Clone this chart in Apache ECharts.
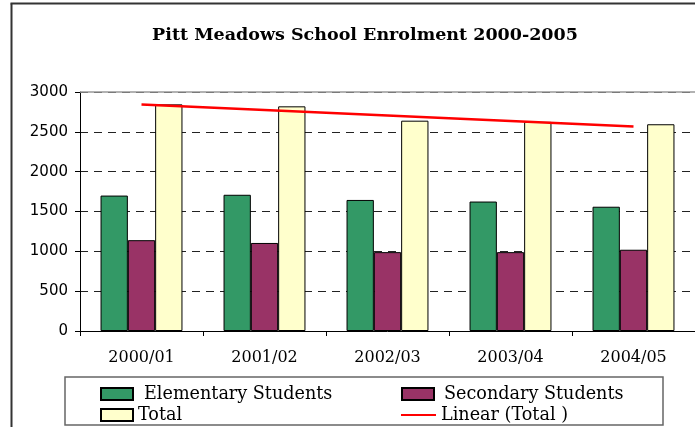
<!DOCTYPE html>
<html>
<head>
<meta charset="utf-8">
<style>
  html, body { margin: 0; padding: 0; background: #fff; overflow: hidden; }
  #chart { width: 695px; height: 427px; }
</style>
<script src="https://cdn.jsdelivr.net/npm/echarts@6/dist/echarts.min.js"></script>
</head>
<body>
<div id="chart"></div>
<script>
// School years shown on the x axis
const years = ['2000/01', '2001/02', '2002/03', '2003/04', '2004/05'];
// Enrolment counts per year
const elementary = [1700, 1710, 1645, 1625, 1560];
const secondary = [1140, 1105, 990, 990, 1020];
const total = [2845, 2820, 2640, 2625, 2595];

// Least-squares linear trend of the totals
function linearTrend(values) {
  const n = values.length;
  let sx = 0, sy = 0, sxy = 0, sxx = 0;
  values.forEach((v, i) => { sx += i; sy += v; sxy += i * v; sxx += i * i; });
  const slope = (n * sxy - sx * sy) / (n * sxx - sx * sx);
  const icpt = (sy - slope * sx) / n;
  return values.map((_, i) => +(icpt + slope * i).toFixed(1));
}
const totalTrend = linearTrend(total);

const serif = 'DejaVu Serif';
const legendFont = { fontFamily: serif, fontSize: 17.6, color: '#000' };
const chart = echarts.init(document.getElementById('chart'));

function legendAt(name, left, top, extra) {
  return Object.assign({
    data: [{ name: name }],
    left: left, top: top,
    itemWidth: 32, itemHeight: 12,
    padding: 0,
    textStyle: legendFont,
    selectedMode: false
  }, extra || {});
}

chart.setOption({
  animation: false,
  backgroundColor: '#fff',
  title: {
    text: 'Pitt Meadows School Enrolment 2000-2005',
    left: 360, top: 21, textAlign: 'center',
    textStyle: { fontFamily: serif, fontSize: 17.5, fontWeight: 'bold', color: '#000' }
  },
  graphic: [
    // chart-area frame (left and top edges)
    { type: 'line', z: -10, silent: true,
      shape: { x1: 11.5, y1: 3.5, x2: 11.5, y2: 427 },
      style: { stroke: '#333', lineWidth: 2 } },
    { type: 'line', z: -10, silent: true,
      shape: { x1: 10.5, y1: 3.5, x2: 695, y2: 3.5 },
      style: { stroke: '#333', lineWidth: 2 } },
    // legend box
    { type: 'rect', z: -5, silent: true,
      shape: { x: 65, y: 377, width: 598, height: 48 },
      style: { fill: '#fff', stroke: '#666', lineWidth: 1.5 } }
  ],
  legend: [
    legendAt('Elementary Students', 100, 385, { icon: 'rect',
      textStyle: Object.assign({}, legendFont, { padding: [0, 0, 0, 6] }) }),
    legendAt('Total', 100, 406, { icon: 'rect' }),
    legendAt('Secondary Students', 401, 385, { icon: 'rect',
      textStyle: Object.assign({}, legendFont, { padding: [0, 0, 0, 5] }) }),
    legendAt('Linear (Total )', 400, 406, { itemWidth: 35,
      itemStyle: { opacity: 0 } })
  ],
  grid: {
    left: 80, top: 92, right: -1, bottom: 96
  },
  xAxis: {
    type: 'category',
    data: years,
    axisLine: { lineStyle: { color: '#000', width: 1 } },
    axisTick: { show: true, length: 5, lineStyle: { color: '#000' } },
    axisLabel: { margin: 19, fontFamily: serif, fontSize: 16, color: '#000' }
  },
  yAxis: {
    type: 'value',
    min: 0, max: 3000, interval: 500,
    axisLine: { show: true, lineStyle: { color: '#000', width: 1 } },
    axisTick: { show: true, length: 5, lineStyle: { color: '#000' } },
    axisLabel: { margin: 12, fontFamily: 'DejaVu Sans', fontSize: 15, color: '#000',
      formatter: v => String(v) },
    splitLine: { show: true, lineStyle: { color: '#222', width: 1, type: [8, 6] } }
  },
  series: [
    { name: 'Elementary Students', type: 'bar', data: elementary,
      barGap: '0%', barCategoryGap: '33.4%',
      itemStyle: { color: '#339966', borderColor: '#000', borderWidth: 1 },
      // solid grey top edge of the plot area
      markLine: { silent: true, symbol: 'none', label: { show: false },
        lineStyle: { color: '#999', type: 'solid', width: 1.5 },
        data: [{ yAxis: 3000 }] } },
    { name: 'Secondary Students', type: 'bar', data: secondary,
      itemStyle: { color: '#993366', borderColor: '#000', borderWidth: 1 } },
    { name: 'Total', type: 'bar', data: total,
      itemStyle: { color: '#FFFFCC', borderColor: '#000', borderWidth: 1 } },
    { name: 'Linear (Total )', type: 'line', data: totalTrend,
      symbol: 'none', z: 5,
      lineStyle: { color: '#FF0000', width: 2.5 },
      itemStyle: { color: '#FF0000' } }
  ]
});
</script>
</body>
</html>
